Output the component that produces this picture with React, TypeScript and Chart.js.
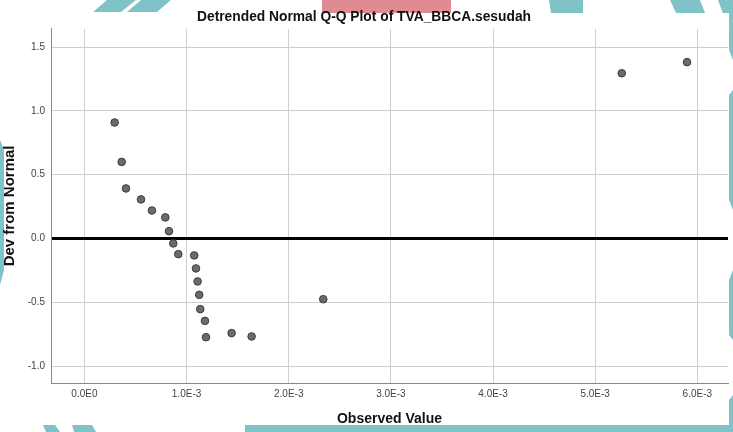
import React, { useEffect, useRef } from "react";
import { Chart, registerables } from "chart.js";

Chart.register(...registerables);

// Observed values (x) and deviation from normal (y)
const observedValues: number[] = [
  0.000296, 0.000365, 0.000407, 0.000554, 0.000661, 0.000792, 0.000828,
  0.00087, 0.000919, 0.001075, 0.001092, 0.001108, 0.001124, 0.001134,
  0.00118, 0.00119, 0.001441, 0.001637, 0.002338, 0.00526, 0.005899,
];
const devFromNormal: number[] = [
  0.909, 0.6, 0.392, 0.306, 0.219, 0.165, 0.057, -0.039, -0.123, -0.133,
  -0.235, -0.337, -0.442, -0.554, -0.646, -0.774, -0.742, -0.768, -0.476,
  1.295, 1.382,
];

const xTickValues: number[] = [0, 0.001, 0.002, 0.003, 0.004, 0.005, 0.006];
const xTickLabels: string[] = ["0.0E0", "1.0E-3", "2.0E-3", "3.0E-3", "4.0E-3", "5.0E-3", "6.0E-3"];
const yTickValues: number[] = [-1.0, -0.5, 0.0, 0.5, 1.0, 1.5];
const yTickLabels: string[] = ["-1.0", "-0.5", "0.0", "0.5", "1.0", "1.5"];

const titleText = "Detrended Normal Q-Q Plot of TVA_BBCA.sesudah";
const xTitle = "Observed Value";
const yTitle = "Dev from Normal";

const FONT = "'Liberation Sans', Arial, sans-serif";

const decorationPlugin = {
  id: "decor",
  beforeDraw(chart: any) {
    const ctx = chart.ctx;
    const w = chart.width;
    const h = chart.height;
    ctx.save();
    const teal = "#7fc3c9";
    const poly = (pts: number[][], color: string) => {
      ctx.beginPath();
      ctx.moveTo(pts[0][0], pts[0][1]);
      for (let i = 1; i < pts.length; i++) ctx.lineTo(pts[i][0], pts[i][1]);
      ctx.closePath();
      ctx.fillStyle = color;
      ctx.fill();
    };
    // top decorations
    poly([[107, 0], [136, 0], [121, 12], [93, 12]], teal);
    poly([[141, 0], [171, 0], [157, 12], [127, 12]], teal);
    poly([[322, 0], [451, 0], [451, 13], [322, 13]], "#e08b94");
    poly([[549, 0], [583, 0], [583, 13], [551, 13]], teal);
    poly([[670, 0], [700, 0], [705, 13], [676, 13]], teal);
    poly([[718, 0], [w, 0], [w, 20], [729, 30]], teal);
    // right edge segments
    poly([[729, 30], [w, 20], [w, 60], [729, 50]], teal);
    poly([[729, 95], [w, 90], [w, 210], [729, 200]], teal);
    poly([[729, 280], [w, 270], [w, 340], [729, 335]], teal);
    poly([[729, 400], [w, 395], [w, h], [729, h]], teal);
    // bottom decorations
    poly([[43, 425], [55, 425], [60, h], [46, h]], teal);
    poly([[72, 425], [92, 425], [96, h], [74, h]], teal);
    poly([[245, 425], [w, 425], [w, h], [245, h]], teal);
    // white card
    ctx.fillStyle = "#ffffff";
    ctx.fillRect(0, 13, 729, 412);
    // left edge hint
    poly([[0, 140], [4, 150], [4, 270], [0, 285]], teal);
    ctx.restore();
  },
};

export default function App() {
  const ref = useRef<HTMLCanvasElement | null>(null);

  useEffect(() => {
    if (!ref.current) return;
    const data = observedValues.map((x, i) => ({ x, y: devFromNormal[i] }));
    const chart = new Chart(ref.current, {
      type: "scatter",
      data: {
        datasets: [
          {
            data,
            backgroundColor: "#6b6b6b",
            borderColor: "#3c3c3c",
            borderWidth: 1,
            pointRadius: 3.8,
          },
        ],
      },
      plugins: [decorationPlugin],
      options: {
        animation: false,
        responsive: false,
        devicePixelRatio: 1,
        layout: { padding: { left: 0, right: 5, top: 0, bottom: 0 } },
        plugins: {
          legend: { display: false },
          tooltip: { enabled: false },
          title: {
            display: true,
            text: titleText,
            color: "#111",
            font: { family: FONT, size: 13.8, weight: "bold" },
            padding: { top: 9, bottom: 3.3 },
          },
        },
        scales: {
          x: {
            type: "linear",
            min: -0.000327,
            max: 0.0063,
            afterBuildTicks: (s: any) => {
              s.ticks = xTickValues.map((v) => ({ value: v }));
            },
            afterFit: (s: any) => {
              s.height = 49;
            },
            ticks: {
              callback: (_v: any, i: number) => xTickLabels[i],
              color: "#444",
              font: { family: FONT, size: 10 },
              padding: 5,
              maxRotation: 0,
              autoSkip: false,
            },
            grid: { color: "#cfcfcf", lineWidth: 1, drawTicks: false },
            border: { color: "#8a8a8a", width: 1 },
            title: {
              display: true,
              text: xTitle,
              color: "#111",
              font: { family: FONT, size: 14, weight: "bold" },
              padding: { top: 0, bottom: 4.5 },
            },
          },
          y: {
            type: "linear",
            min: -1.133,
            max: 1.643,
            afterBuildTicks: (s: any) => {
              s.ticks = yTickValues.map((v) => ({ value: v }));
            },
            afterFit: (s: any) => {
              s.width = 51;
            },
            ticks: {
              callback: (_v: any, i: number) => yTickLabels[i],
              color: "#444",
              font: { family: FONT, size: 10 },
              padding: 6,
              autoSkip: false,
            },
            grid: {
              color: (c: any) => (c.tick && c.tick.value === 0 ? "#000000" : "#cfcfcf"),
              lineWidth: (c: any) => (c.tick && c.tick.value === 0 ? 3 : 1),
              drawTicks: false,
            },
            border: { color: "#8a8a8a", width: 1 },
            title: {
              display: true,
              text: yTitle,
              color: "#111",
              font: { family: FONT, size: 15, weight: "bold" },
              padding: { top: 1, bottom: 0 },
            },
          },
        },
      },
    });
    return () => chart.destroy();
  }, []);

  return (
    <div style={{ position: "absolute", left: 0, top: 0, width: 733, height: 432 }}>
      <canvas ref={ref} width={733} height={432} style={{ display: "block" }} />
    </div>
  );
}
